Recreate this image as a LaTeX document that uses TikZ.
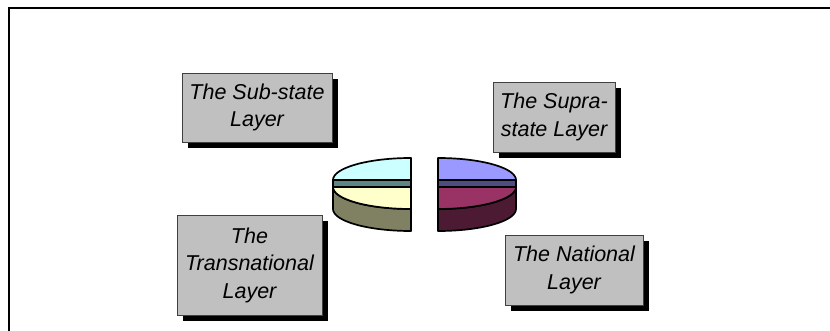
\documentclass[tikz,border=0pt]{standalone}
\usepackage{fontspec}
\setmainfont{Liberation Sans}
\usetikzlibrary{shadows}
\definecolor{boxgray}{HTML}{C0C0C0}
\definecolor{rimgray}{HTML}{404040}
\definecolor{icecyan}{HTML}{CCFFFF}
\definecolor{slateband}{HTML}{5F8585}
\definecolor{paleyellow}{HTML}{FFFFCC}
\definecolor{olive}{HTML}{808062}
\definecolor{lavender}{HTML}{9999FF}
\definecolor{indigoband}{HTML}{4D4D82}
\definecolor{plum}{HTML}{993366}
\definecolor{darkplum}{HTML}{4D1A33}
\tikzset{layer/.style={draw=rimgray,fill=boxgray,line width=0.8pt,align=center,
 font=\fontsize{21.5}{27.5}\selectfont\itshape,inner sep=2pt,
 drop shadow={shadow xshift=5.5pt,shadow yshift=-6pt,opacity=1,fill=black}},
 slice/.style={draw=black,line width=1.7pt,line join=round}}

\begin{document}
\begin{tikzpicture}[x=1pt,y=-1pt]
\useasboundingbox (0,0) rectangle (830,331);
\draw[line width=1.5pt] (9,345) -- (9,8) -- (845,8);
% left half of the pie
\filldraw[slice,fill=olive] (333,187) arc[start angle=180,end angle=90,x radius=78,y radius=22]
 -- (411,231) arc[start angle=90,end angle=180,x radius=78,y radius=22] -- cycle;
\filldraw[slice,fill=paleyellow] (333,187) arc[start angle=180,end angle=90,x radius=78,y radius=22]
 -- (411,187) -- cycle;
\filldraw[slice,fill=slateband] (333,180) rectangle (411,187);
\filldraw[slice,fill=icecyan] (411,180) -- (333,180) arc[start angle=180,end angle=270,x radius=78,y radius=22] -- cycle;
% right half of the pie
\filldraw[slice,fill=darkplum] (516,187) arc[start angle=0,end angle=90,x radius=78,y radius=22]
 -- (438,231) arc[start angle=90,end angle=0,x radius=78,y radius=22] -- cycle;
\filldraw[slice,fill=plum] (516,187) arc[start angle=0,end angle=90,x radius=78,y radius=22]
 -- (438,187) -- cycle;
\filldraw[slice,fill=indigoband] (438,180) rectangle (516,187);
\filldraw[slice,fill=lavender] (438,180) -- (516,180) arc[start angle=0,end angle=-90,x radius=78,y radius=22] -- cycle;
% the four layers
\node[layer,minimum width=150pt,minimum height=69pt] (substate) at (257,107.5) {The Sub-state\\Layer};
\node[layer,minimum width=122pt,minimum height=70pt] (suprastate) at (554,117) {The Supra-\\state Layer};
\node[layer,minimum width=145pt,minimum height=100pt] (transnat) at (249.5,265) {The\\Transnational\\Layer};
\node[layer,minimum width=138pt,minimum height=70pt] (national) at (574,270) {The National\\Layer};
\end{tikzpicture}
\end{document}
